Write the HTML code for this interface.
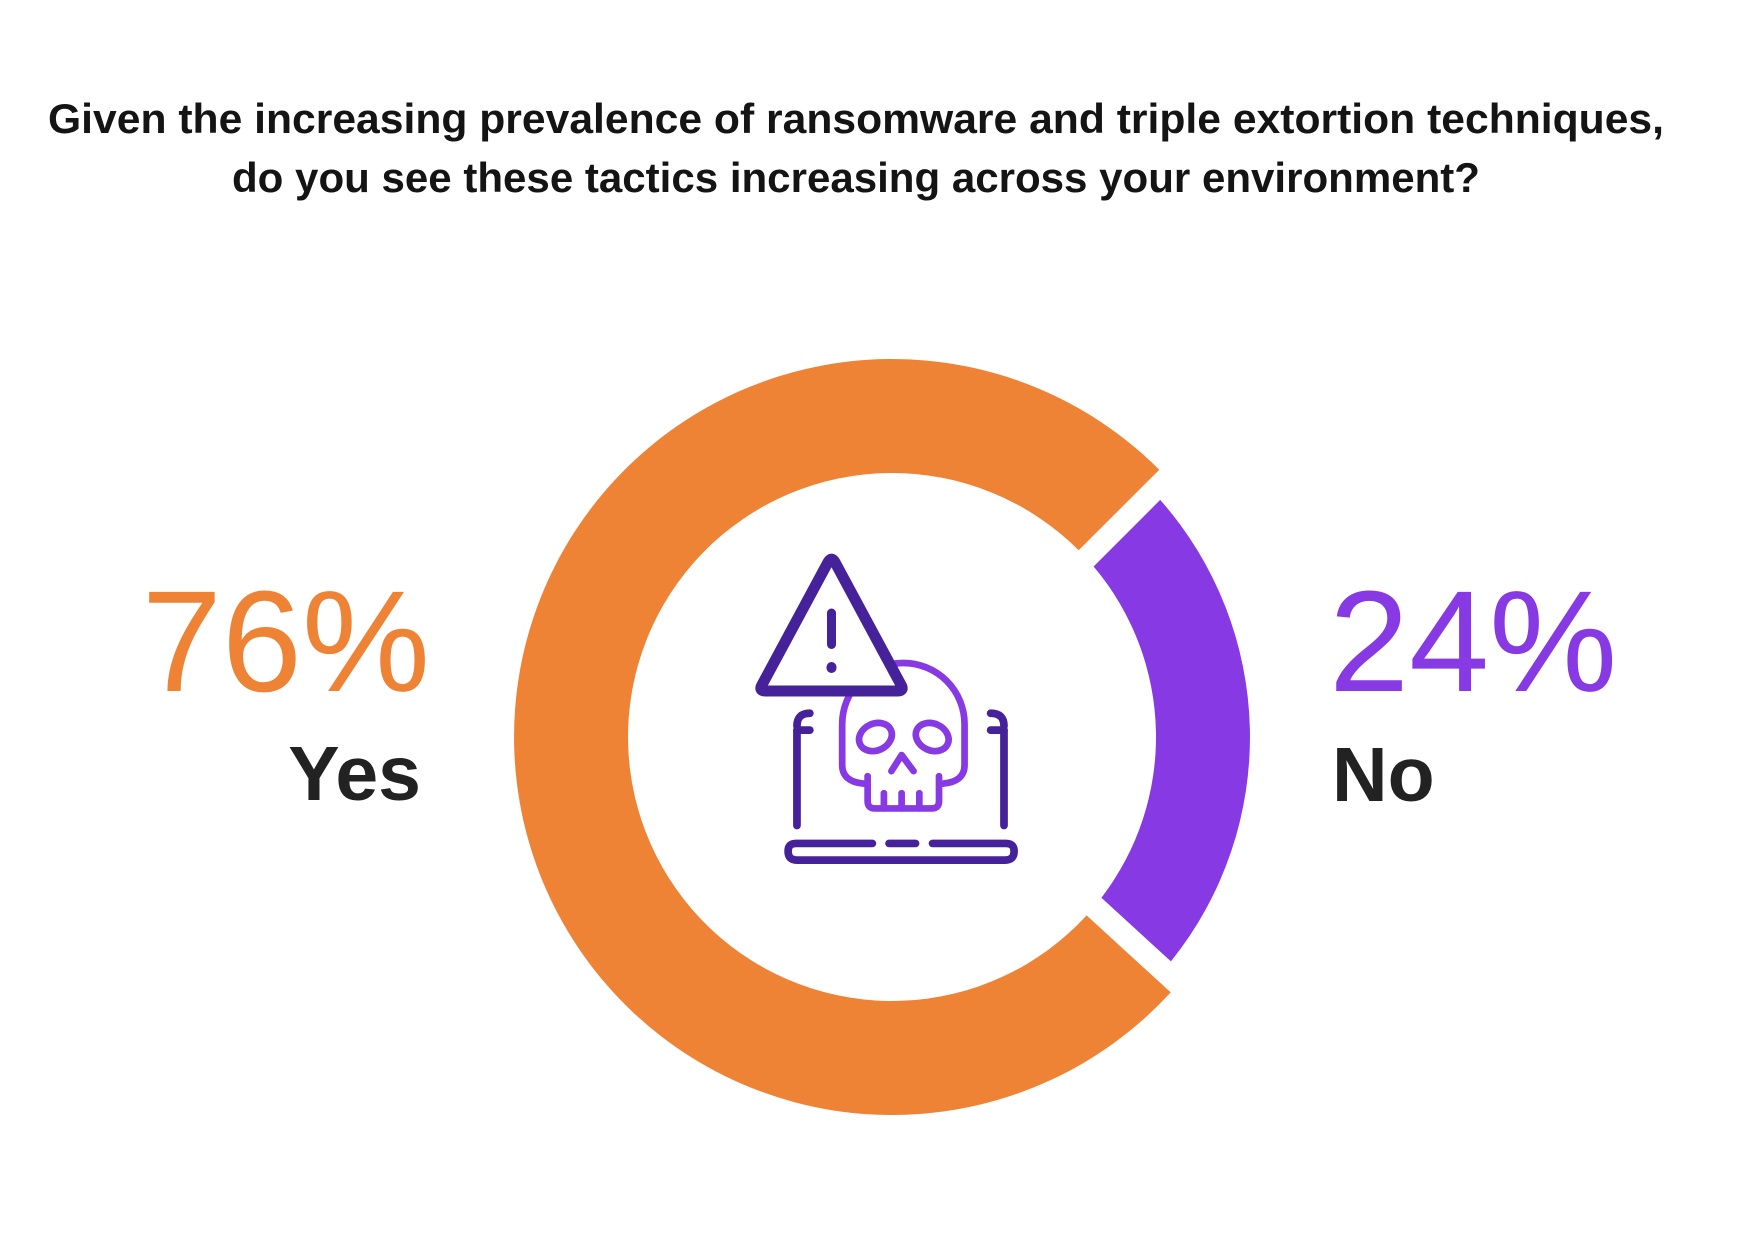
<!DOCTYPE html>
<html>
<head>
<meta charset="utf-8">
<style>
  html, body { margin: 0; padding: 0; background: #ffffff; }
  body { width: 1738px; height: 1238px; overflow: hidden; }
  svg { display: block; }
  text { font-family: "Liberation Sans", Arial, sans-serif; }
</style>
</head>
<body>
<svg width="1738" height="1238" viewBox="0 0 1738 1238" xmlns="http://www.w3.org/2000/svg">
  <rect x="0" y="0" width="1738" height="1238" fill="#ffffff"/>

  <!-- Title -->
  <text x="856" y="133" text-anchor="middle" font-size="42" font-weight="700" fill="#141414" textLength="1616" lengthAdjust="spacingAndGlyphs">Given the increasing prevalence of ransomware and triple extortion techniques,</text>
  <text x="856" y="192" text-anchor="middle" font-size="42" font-weight="700" fill="#141414" textLength="1248" lengthAdjust="spacingAndGlyphs">do you see these tactics increasing across your environment?</text>

  <!-- Donut: orange (76%) -->
  <path d="M 1170.7 992.4 A 378 378 0 1 1 1159.3 469.7 L 1078.7 550.3 A 264 264 0 1 0 1086.6 915.4 Z" fill="#EE8336"/>
  <!-- Donut: purple (24%) -->
  <path d="M 1160.2 499.9 A 358 358 0 0 1 1170.9 961.4 L 1101.4 897.7 A 264 264 0 0 0 1093.6 566.5 Z" fill="#8739E3"/>

  <!-- Labels -->
  <text x="430" y="691" text-anchor="end" font-size="144" fill="#EE8336">76%</text>
  <text x="421" y="800" text-anchor="end" font-size="77" font-weight="700" fill="#222222">Yes</text>
  <text x="1329" y="691" text-anchor="start" font-size="144" fill="#8739E3">24%</text>
  <text x="1332" y="801" text-anchor="start" font-size="77" font-weight="700" fill="#222222">No</text>

  <g transform="translate(901 760) scale(1.03) translate(-901 -760)">
    <!-- Icon: laptop (dark purple) -->
    <g fill="none" stroke="#45219A" stroke-width="7.5" stroke-linecap="round" stroke-linejoin="round">
      <path d="M 812.5 714.6 Q 800 714.6 800 727"/>
      <path d="M 800 731 L 812.5 731"/>
      <path d="M 800 731 L 800 823.6"/>
      <path d="M 988 714.6 Q 1001 714.6 1001 727"/>
      <path d="M 1001 731 L 988 731"/>
      <path d="M 1001 731 L 1001 823.6"/>
      <path d="M 873.2 841 L 799 841 Q 791.4 841 791.4 848.6 Q 791.4 857.2 800 857.2 L 1002 857.2 Q 1010.8 857.2 1010.8 848.6 Q 1010.8 841 1003 841 L 931.6 841"/>
      <path d="M 889.4 841 L 915.1 841"/>
    </g>

    <!-- Icon: skull (purple) -->
    <g fill="none" stroke="#8739E3" stroke-width="6.5" stroke-linecap="round" stroke-linejoin="round">
      <path d="M 865 783 Q 843.9 781 843.9 765 L 843.9 725.2 A 59.4 59.4 0 0 1 962.7 725.2 L 962.7 765 Q 962.7 781 941.5 783"/>
      <path d="M 868.6 775.7 L 868.6 800 Q 868.6 807 875.6 807 L 930.9 807 Q 937.9 807 937.9 800 L 937.9 775.7"/>
      <path d="M 884.4 792.2 L 884.4 807"/>
      <path d="M 901.6 792.2 L 901.6 807"/>
      <path d="M 918.8 792.2 L 918.8 807"/>
      <ellipse cx="876.2" cy="737.7" rx="16.5" ry="13" transform="rotate(-25 876.2 737.7)"/>
      <ellipse cx="931.3" cy="737.7" rx="16.5" ry="13" transform="rotate(25 931.3 737.7)"/>
      <path d="M 891.7 770.8 L 901.6 755.2 L 913.2 770.8"/>
    </g>
  </g>

  <!-- Icon: warning triangle (dark purple, white fill, on top) -->
  <path d="M 835 562.2 L 901 684.8 Q 904.5 691 897.5 691 L 765.5 691 Q 758.5 691 762 684.8 L 828 562.2 Q 831.5 556 835 562.2 Z" fill="#ffffff" stroke="#45219A" stroke-width="11" stroke-linejoin="round"/>
  <line x1="831.5" y1="613" x2="831.5" y2="644.5" stroke="#45219A" stroke-width="9" stroke-linecap="round"/>
  <rect x="826.5" y="662" width="10" height="11" rx="5" ry="5" fill="#45219A"/>
</svg>
</body>
</html>
